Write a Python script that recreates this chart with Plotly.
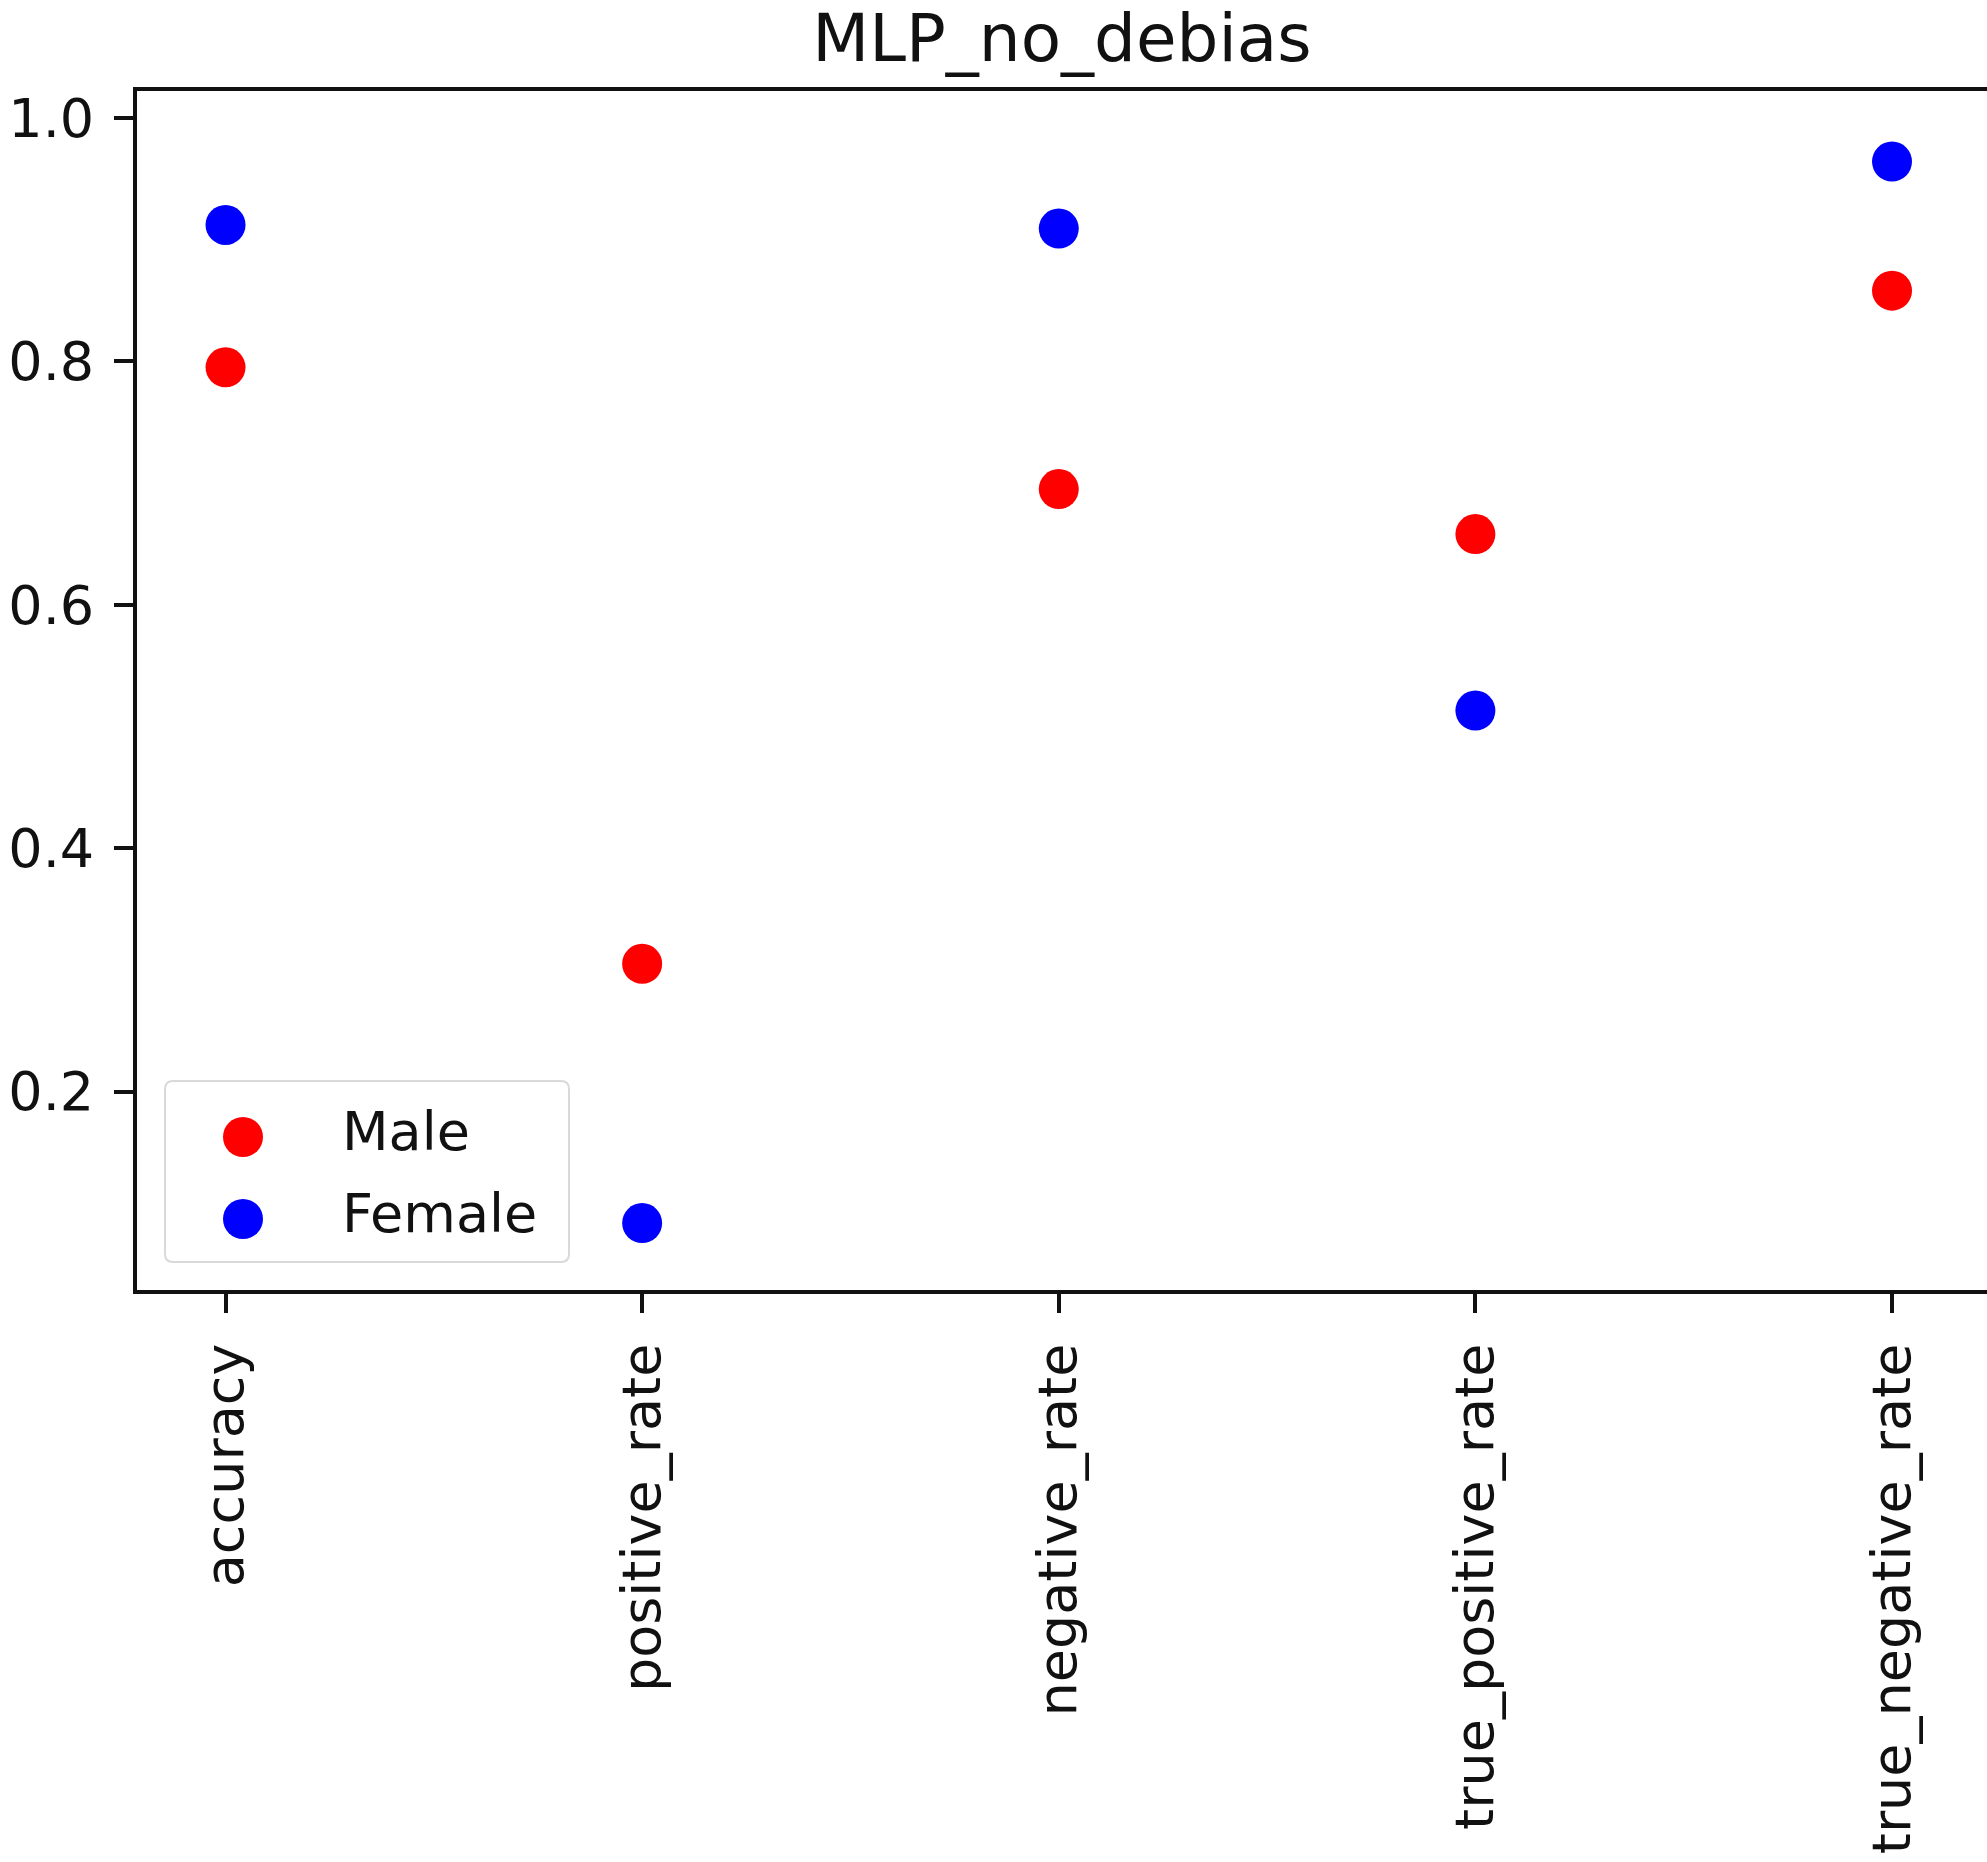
import plotly.graph_objects as go

categories = ["accuracy", "positive_rate", "negative_rate", "true_positive_rate", "true_negative_rate"]
male_values = [0.795, 0.305, 0.695, 0.658, 0.858]
female_values = [0.912, 0.092, 0.909, 0.513, 0.964]
ytick_vals = [0.2, 0.4, 0.6, 0.8, 1.0]
ytick_text = ["0.2", "0.4", "0.6", "0.8", "1.0"]
series_names = ["Male", "Female"]
series_colors = ["#ff0000", "#0000ff"]

W, H = 1987, 1862
L, R, T, B = 137, 0, 91, 572
FONT = "DejaVu Sans"
TXT = "#111111"

plot_w = W - L - R
plot_h = H - T - B


def px_to_paper(px, py):
    return (px - L) / plot_w, (H - B - py) / plot_h


fig = go.Figure()
for name, vals, col in zip(series_names, [male_values, female_values], series_colors):
    fig.add_trace(go.Scatter(x=list(range(len(categories))), y=vals, mode="markers", name=name,
                             showlegend=False,
                             marker=dict(color=col, size=40, line=dict(width=0))))

# legend box (matplotlib style: rounded, light grey frame)
cx, cy = px_to_paper(367, 1171.5)
w2, h2, r = 202, 90.5, 8
path = (f"M {-w2 + r},{-h2} L {w2 - r},{-h2} Q {w2},{-h2} {w2},{-h2 + r} "
        f"L {w2},{h2 - r} Q {w2},{h2} {w2 - r},{h2} L {-w2 + r},{h2} "
        f"Q {-w2},{h2} {-w2},{h2 - r} L {-w2},{-h2 + r} Q {-w2},{-h2} {-w2 + r},{-h2} Z")
shapes = [dict(type="path", xref="paper", yref="paper", xsizemode="pixel", ysizemode="pixel",
               xanchor=cx, yanchor=cy, path=path, fillcolor="rgba(255,255,255,0.8)",
               line=dict(color="#d9d9d9", width=2), layer="above")]
annotations = []
legend_rows_y = [1137, 1219]
for name, col, ry in zip(series_names, series_colors, legend_rows_y):
    mx, my = px_to_paper(243, ry)
    shapes.append(dict(type="circle", xref="paper", yref="paper", xsizemode="pixel", ysizemode="pixel",
                       xanchor=mx, yanchor=my, x0=-20, x1=20, y0=-20, y1=20,
                       fillcolor=col, line=dict(width=0), layer="above"))
    tx, ty = px_to_paper(340, ry - 6)
    annotations.append(dict(x=tx, y=ty, xref="paper", yref="paper", text=name, showarrow=False,
                            xanchor="left", yanchor="middle",
                            font=dict(family=FONT, size=54, color=TXT)))

fig.update_layout(
    width=W, height=H,
    margin=dict(l=L, r=R, t=T, b=B, pad=0),
    paper_bgcolor="white", plot_bgcolor="white",
    font=dict(family=FONT, size=54, color=TXT),
    title=dict(text="MLP_no_debias", font=dict(family=FONT, size=66, color=TXT),
               x=0.5, xref="paper", xanchor="center", y=1 - 38 / H, yref="container", yanchor="middle"),
    showlegend=False,
    shapes=shapes,
    annotations=annotations,
)
fig.update_xaxes(
    range=[-0.2125, 4.228], tickmode="array", tickvals=list(range(len(categories))), ticktext=categories,
    tickangle=-90, showgrid=False, zeroline=False,
    showline=True, linecolor=TXT, linewidth=4, mirror=True,
    ticks="outside", ticklen=19, tickwidth=4, tickcolor=TXT, ticklabelstandoff=9,
    tickfont=dict(family=FONT, size=54, color=TXT),
)
fig.update_yaxes(
    range=[0.037, 1.022], tickmode="array", tickvals=ytick_vals, ticktext=ytick_text,
    showgrid=False, zeroline=False,
    showline=True, linecolor=TXT, linewidth=4, mirror=False,
    ticks="outside", ticklen=19, tickwidth=4, tickcolor=TXT, ticklabelstandoff=9,
    tickfont=dict(family=FONT, size=54, color=TXT),
)

fig.write_html("out.html", config={"displayModeBar": False},
               post_script="document.body.style.margin='0';document.body.style.overflow='hidden';")
